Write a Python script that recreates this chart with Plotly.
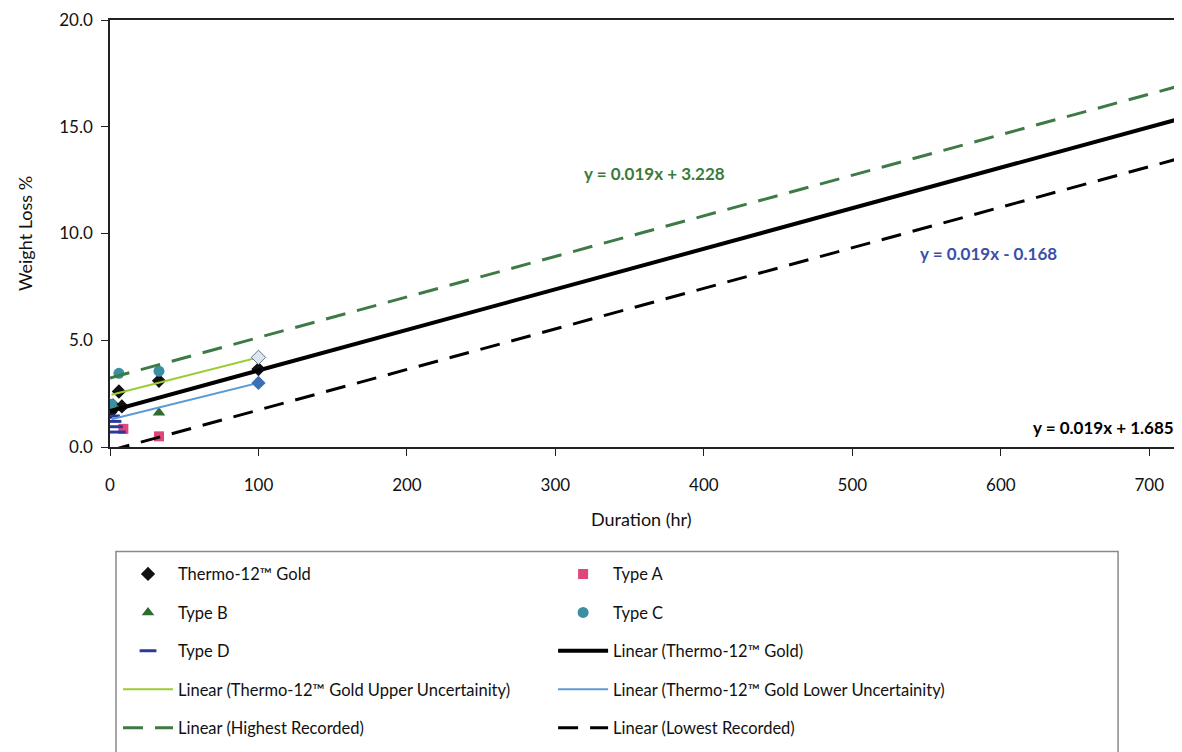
import plotly.graph_objects as go

# ---------------- data ----------------
gold_x = [0.5, 2, 6, 8, 33, 100]
gold_y = [1.65, 1.95, 2.6, 1.9, 3.1, 3.65]

typeA_x = [9, 33]
typeA_y = [0.85, 0.5]

typeB_x = [3, 33]
typeB_y = [1.9, 1.6]

typeC_x = [1, 6, 33]
typeC_y = [2.0, 3.45, 3.55]

typeD_x = [1, 2, 3, 5]
typeD_y = [1.45, 1.2, 0.95, 0.7]

upper_x = [1, 100]
upper_y = [2.45, 4.2]
lower_x = [1, 100]
lower_y = [1.3, 3.0]

# linear trend coefficients (slope, intercept) and plotted extent
trend_names = ["Linear (Thermo-12™ Gold)", "Linear (Highest Recorded)", "Linear (Lowest Recorded)"]
trend_slope = [0.019, 0.019, 0.019]
trend_icpt = [1.685, 3.228, -0.168]
trend_x = [0, 720]

eq_texts = ["y = 0.019x + 1.685", "y = 0.019x + 3.228", "y = 0.019x - 0.168"]
eq_x = [718, 367, 592]
eq_y = [0.9, 12.8, 9.05]

x_ticks = [0, 100, 200, 300, 400, 500, 600, 700]
y_ticks = [0, 5, 10, 15, 20]

FONT = "Lato"

fig = go.Figure()

def tline(i):
    return [trend_slope[i] * x + trend_icpt[i] for x in trend_x]

# column 1 (legend) / column 2 (legend2)
fig.add_trace(go.Scatter(x=gold_x, y=gold_y, mode="markers", name="Thermo-12™ Gold",
                         marker=dict(symbol="diamond", size=11, color="#111111"),
                         legend="legend", legendgroup="g1"))
fig.add_trace(go.Scatter(x=typeA_x, y=typeA_y, mode="markers", name="Type A",
                         marker=dict(symbol="square", size=10, color="#E0457B"),
                         legend="legend2", legendgroup="g2"))
fig.add_trace(go.Scatter(x=typeB_x, y=typeB_y, mode="markers", name="Type B",
                         marker=dict(symbol="triangle-up", size=11, color="#2E6B30"),
                         legend="legend", legendgroup="g3"))
fig.add_trace(go.Scatter(x=typeC_x, y=typeC_y, mode="markers", name="Type C",
                         marker=dict(symbol="circle", size=11, color="#3A8FA0"),
                         legend="legend2", legendgroup="g4"))
fig.add_trace(go.Scatter(x=typeD_x, y=typeD_y, mode="markers", name="Type D",
                         marker=dict(symbol="line-ew", size=12, color="#2B3A9A",
                                     line=dict(color="#2B3A9A", width=3)),
                         legend="legend", legendgroup="g5"))
fig.add_trace(go.Scatter(x=trend_x, y=tline(0), mode="lines", name=trend_names[0],
                         line=dict(color="#000000", width=4),
                         legend="legend2", legendgroup="g6"))
fig.add_trace(go.Scatter(x=upper_x, y=upper_y, mode="lines",
                         name="Linear (Thermo-12™ Gold Upper Uncertainity)",
                         line=dict(color="#9ACD32", width=2),
                         legend="legend", legendgroup="g7"))
fig.add_trace(go.Scatter(x=lower_x, y=lower_y, mode="lines",
                         name="Linear (Thermo-12™ Gold Lower Uncertainity)",
                         line=dict(color="#5B9BD5", width=2),
                         legend="legend2", legendgroup="g8"))
fig.add_trace(go.Scatter(x=trend_x, y=tline(1), mode="lines", name=trend_names[1],
                         line=dict(color="#3E7A45", width=3, dash="20px,12px"),
                         legend="legend", legendgroup="g9"))
fig.add_trace(go.Scatter(x=trend_x, y=tline(2), mode="lines", name=trend_names[2],
                         line=dict(color="#000000", width=3, dash="20px,12px"),
                         legend="legend2", legendgroup="g10"))

# uncertainty marker points (not in legend)
fig.add_trace(go.Scatter(x=[upper_x[1]], y=[upper_y[1]], mode="markers", showlegend=False,
                         marker=dict(symbol="diamond", size=11, color="#DDE6EE",
                                     line=dict(color="#667788", width=1))))
fig.add_trace(go.Scatter(x=[lower_x[1]], y=[lower_y[1]], mode="markers", showlegend=False,
                         marker=dict(symbol="diamond", size=11, color="#3D6FB5")))

eq_colors = ["#000000", "#3B7A3B", "#3A4FA8"]
eq_anchor = ["right", "center", "center"]
for t, x, y, c, a in zip(eq_texts, eq_x, eq_y, eq_colors, eq_anchor):
    fig.add_annotation(x=x, y=y, text="<b>" + t + "</b>", showarrow=False, xanchor=a,
                       font=dict(family=FONT, size=17, color=c), bgcolor="rgba(255,255,255,0)")

# x-axis title placed as a paper annotation
fig.add_annotation(xref="paper", yref="paper", x=0.497, y=-0.168, text="Duration (hr)",
                   showarrow=False, xanchor="center", yanchor="middle",
                   font=dict(family=FONT, size=18, color="#111111"))

legend_common = dict(orientation="v", font=dict(family=FONT, size=16.5, color="#111111"),
                     bgcolor="rgba(0,0,0,0)", borderwidth=0, itemwidth=50,
                     tracegroupgap=14, xanchor="left", yanchor="top", traceorder="grouped")

# page body has an 8px margin: figure is sized so that the plot lands where the reference has it
fig.update_layout(
    width=1174, height=744,
    margin=dict(l=102, r=1, t=10, b=305),
    paper_bgcolor="white", plot_bgcolor="white",
    font=dict(family=FONT, size=16, color="#111111"),
    legend=dict(x=0.0075, y=-0.257, **legend_common),
    legend2=dict(x=0.4145, y=-0.257, **legend_common),
    shapes=[dict(type="rect", xref="paper", yref="paper", x0=0.0056, x1=0.943,
                 y0=-0.75, y1=-0.245, line=dict(color="#8a8a8a", width=1.5),
                 fillcolor="rgba(0,0,0,0)", layer="below")],
)

fig.update_xaxes(range=[0, 720], tickvals=x_ticks, ticks="outside", ticklen=7,
                 tickcolor="#222", showline=True, linecolor="#222", linewidth=1.5,
                 mirror=True, showgrid=False, zeroline=False, ticklabelstandoff=15,
                 ticklabeloverflow="allow",
                 tickfont=dict(family=FONT, size=17))
fig.update_yaxes(range=[0, 20], tickvals=y_ticks, tickformat=".1f", ticks="outside", ticklen=7,
                 tickcolor="#222", showline=True, linecolor="#222", linewidth=1.5,
                 mirror=True, showgrid=False, zeroline=False, ticklabelstandoff=5,
                 ticklabeloverflow="allow",
                 tickfont=dict(family=FONT, size=17),
                 title=dict(text="Weight Loss %", font=dict(family=FONT, size=18), standoff=22))

fig.write_html("out.html")
